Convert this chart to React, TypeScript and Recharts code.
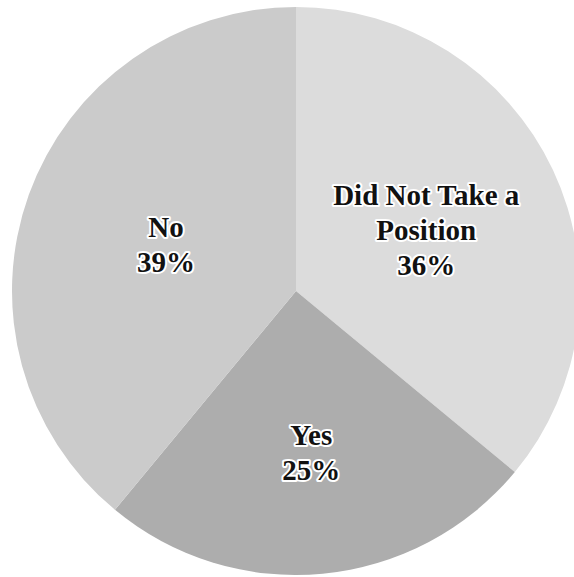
import { PieChart, Pie, Cell } from "recharts";

const categories = ["Did Not Take a Position", "Yes", "No"];
const labelLines = [["Did Not Take a", "Position"], ["Yes"], ["No"]];
const shares = [36, 25, 39];
const sliceColors = ["#dcdcdc", "#adadad", "#cbcbcb"];

const data = categories.map((name, i) => ({ name, value: shares[i] }));

const RAD = Math.PI / 180;

// label sits a bit inside the sector's centroid
const renderLabel = (props: any) => {
  const { cx, cy, midAngle, outerRadius, startAngle, endAngle, index } = props;
  const theta = Math.abs(endAngle - startAngle) * RAD;
  const centroid = (4 * outerRadius * Math.sin(theta / 2)) / (3 * theta);
  const r = centroid * 0.95;
  const x = cx + r * Math.cos(-midAngle * RAD);
  const y = cy + r * Math.sin(-midAngle * RAD);
  const lines = [...labelLines[index], `${shares[index]}%`];
  const lh = 35;
  const top = y - ((lines.length - 1) * lh) / 2;
  return (
    <text
      x={x}
      y={top}
      textAnchor="middle"
      dominantBaseline="central"
      fontFamily="'Liberation Serif', 'DejaVu Serif', serif"
      fontWeight="bold"
      fontSize={29}
      fill="#111"
      stroke="#fff"
      strokeWidth={4}
      strokeLinejoin="round"
      paintOrder="stroke"
    >
      {lines.map((l, i) => (
        <tspan key={i} x={x} dy={i === 0 ? 0 : lh}>
          {l}
        </tspan>
      ))}
    </text>
  );
};

const App = () => {
  return (
    <div style={{ position: "absolute", left: 0, top: 0, width: 574, height: 577, background: "#fff" }}>
      <PieChart width={574} height={577} margin={{ top: 0, right: 0, bottom: 0, left: 0 }}>
        <Pie
          data={data}
          dataKey="value"
          nameKey="name"
          cx={296}
          cy={291}
          outerRadius={284}
          startAngle={90}
          endAngle={-270}
          stroke="none"
          label={renderLabel}
          labelLine={false}
          isAnimationActive={false}
        >
          {data.map((d, i) => (
            <Cell key={d.name} fill={sliceColors[i]} />
          ))}
        </Pie>
      </PieChart>
    </div>
  );
};

export default App;
